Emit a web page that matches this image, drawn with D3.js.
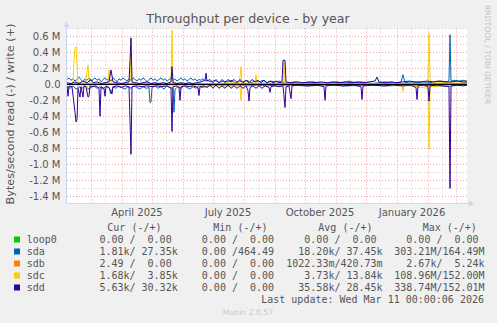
<!DOCTYPE html>
<html><head><meta charset="utf-8">
<script src="https://cdn.jsdelivr.net/npm/d3@7/dist/d3.min.js"></script>
<style>
body{margin:0;background:#f0f0f0;}
svg{display:block}
text{font-family:"DejaVu Sans",sans-serif;}
.mono{font-family:"DejaVu Sans Mono",monospace;white-space:pre;}
</style>
</head><body>
<svg id="c" width="497" height="323"></svg>
<script>
// ---------------- DATA ----------------
const title = "Throughput per device - by year";
const yTitle = "Bytes/second read (-) / write (+)";
const startDate = "2025-02-05";   // left edge of the year view (400 days)
const spanDays = 400;
const unit = 1e6;                  // values below are in M bytes/s
const devices = ["loop0", "sda", "sdb", "sdc", "sdd"];
const yTicks = [0.6, 0.4, 0.2, 0.0, -0.2, -0.4, -0.6, -0.8, -1.0, -1.2, -1.4];
const yTickLabels = ["0.6 M","0.4 M","0.2 M","0.0","-0.2 M","-0.4 M","-0.6 M","-0.8 M","-1.0 M","-1.2 M","-1.4 M"];

// [day offset from startDate, value in M]
const loop0Write = [[0,0],[400,0]];
const loop0Read  = [[0,0],[400,0]];
const sdbWrite = [[0,0],[400,0]];
const sdbRead  = [[0,0],[400,0]];

const sdaWrite = [[0,0.06],[2,0.08],[4,0.05],[6,0.07],[8,0.04],[10,0.06],[12,0.09],[14,0.06],[16,0.03],[18,0.07],[20,0.05],[22,0.08],[24,0.04],[26,0.06],[28,0.08],[30,0.05],[32,0.07],[34,0.03],[36,0.06],[38,0.08],[40,0.05],[42,0.07],[44,0.04],[46,0.08],[48,0.06],[50,0.03],[52,0.07],[54,0.05],[56,0.08],[58,0.06],[60,0.04],[62,0.07],[64,0.05],[66,0.08],[68,0.06],[70,0.04],[72,0.07],[74,0.05],[76,0.08],[78,0.06],[80,0.03],[82,0.06],[84,0.08],[86,0.05],[88,0.07],[90,0.04],[92,0.06],[94,0.08],[96,0.05],[98,0.07],[100,0.04],[102,0.06],[104,0.08],[106,0.05],[108,0.07],[110,0.04],[112,0.06],[114,0.08],[116,0.05],[118,0.07],[120,0.04],[122,0.06],[124,0.08],[126,0.05],[128,0.07],[130,0.04],[132,0.06],[134,0.05],[136,0.07],[138,0.04],[140,0.05],[144,0.03],[148,0.05],[152,0.02],[156,0.04],[160,0.03],[164,0.05],[168,0.02],[172,0.04],[176,0.03],[180,0.05],[184,0.02],[188,0.04],[192,0.03],[196,0.05],[200,0.02],[204,0.04],[208,0.03],[212,0.04],[216,0.02],[222,0.02],[228,0.03],[234,0.01],[240,0.02],[246,0.03],[252,0.02],[258,0.01],[264,0.02],[270,0.03],[276,0.02],[282,0.04],[288,0.02],[294,0.03],[300,0.02],[306,0.01],[312,0.02],[318,0.03],[324,0.02],[330,0.02],[334,0.03],[336,0.12],[338,0.02],[344,0.03],[350,0.02],[356,0.03],[362,0.02],[368,0.03],[374,0.04],[380,0.03],[382,0.05],[383,0.62],[384,0.04],[388,0.05],[392,0.04],[396,0.05],[400,0.04]];
const sdaRead = [[0,-0.03],[3,-0.05],[6,-0.02],[9,-0.06],[12,-0.03],[15,-0.05],[18,-0.02],[21,-0.06],[24,-0.04],[27,-0.02],[30,-0.05],[33,-0.03],[36,-0.06],[39,-0.02],[42,-0.04],[44,-0.12],[46,-0.03],[49,-0.05],[52,-0.02],[55,-0.04],[58,-0.06],[61,-0.03],[64,-0.05],[67,-0.02],[70,-0.04],[73,-0.06],[76,-0.03],[79,-0.05],[82,-0.04],[83,-0.23],[84,-0.22],[85,-0.04],[88,-0.02],[91,-0.05],[94,-0.03],[97,-0.06],[100,-0.02],[103,-0.04],[106,-0.05],[107,-0.35],[108,-0.06],[111,-0.03],[114,-0.05],[117,-0.02],[120,-0.04],[123,-0.06],[126,-0.03],[129,-0.05],[132,-0.02],[135,-0.04],[138,-0.03],[142,-0.02],[150,-0.01],[160,-0.02],[170,-0.01],[180,-0.02],[190,-0.01],[200,-0.02],[210,-0.01],[220,-0.01],[240,-0.02],[260,-0.01],[280,-0.02],[300,-0.01],[320,-0.02],[336,-0.01],[350,-0.01],[370,-0.02],[383,-0.02],[400,-0.01]];

const sdcWrite = [[0,0.0],[6,0.01],[7,0.30],[8,0.45],[9,0.47],[10,0.25],[11,0.02],[18,0.01],[19,0.08],[20,0.16],[21,0.24],[22,0.05],[23,0.01],[30,0.0],[40,0.01],[41,0.06],[42,0.18],[43,0.02],[50,0.0],[60,0.01],[63,0.05],[64,0.56],[65,0.02],[80,0.0],[100,0.01],[104,0.03],[105,0.68],[106,0.02],[120,0.0],[150,0.01],[172,0.02],[173,0.08],[174,0.22],[175,0.02],[188,0.01],[189,0.12],[190,0.01],[200,0.0],[216,0.02],[217,0.28],[218,0.02],[240,0.01],[280,0.01],[300,0.01],[320,0.01],[340,0.01],[360,0.01],[361,0.10],[362,0.64],[363,0.05],[366,0.02],[369,0.02],[370,0.05],[371,0.02],[380,0.02],[390,0.03],[400,0.02]];
const sdcRead = [[0,0.0],[19,-0.01],[20,-0.08],[21,-0.01],[60,0.0],[105,-0.02],[173,-0.02],[174,-0.20],[175,-0.01],[200,0.0],[300,0.0],[335,-0.02],[336,-0.09],[337,-0.01],[361,-0.05],[362,-0.81],[363,-0.03],[380,-0.01],[400,-0.01]];

const sddWrite = [[0,0.02],[4,0.01],[8,0.03],[12,0.01],[16,0.04],[20,0.02],[24,0.06],[26,0.02],[30,0.03],[34,0.01],[38,0.02],[42,0.03],[44,0.18],[46,0.03],[50,0.02],[54,0.01],[58,0.02],[62,0.03],[63,0.30],[64,0.58],[65,0.03],[68,0.02],[72,0.01],[76,0.02],[80,0.03],[84,0.01],[88,0.02],[92,0.01],[96,0.02],[100,0.01],[104,0.03],[105,0.22],[106,0.02],[110,0.01],[114,0.02],[118,0.01],[122,0.02],[126,0.01],[130,0.02],[134,0.03],[138,0.05],[139,0.14],[140,0.04],[143,0.06],[146,0.02],[149,0.06],[152,0.02],[155,0.06],[158,0.02],[161,0.06],[164,0.03],[167,0.06],[170,0.02],[173,0.06],[176,0.02],[179,0.05],[182,0.02],[185,0.06],[188,0.03],[191,0.05],[194,0.02],[197,0.05],[200,0.02],[203,0.04],[206,0.02],[209,0.04],[212,0.02],[215,0.03],[216,0.30],[218,0.30],[219,0.03],[224,0.02],[230,0.03],[236,0.02],[242,0.03],[248,0.02],[254,0.03],[260,0.02],[266,0.03],[272,0.02],[278,0.03],[284,0.02],[290,0.03],[296,0.02],[302,0.03],[308,0.04],[310,0.09],[312,0.03],[318,0.02],[324,0.03],[330,0.02],[336,0.03],[342,0.04],[348,0.03],[354,0.03],[360,0.04],[366,0.03],[372,0.04],[378,0.03],[384,0.03],[390,0.04],[396,0.03],[400,0.03]];
const sddRead = [[0,-0.02],[1,-0.15],[2,-0.02],[5,-0.03],[8,-0.35],[9,-0.47],[10,-0.44],[11,-0.05],[13,-0.16],[14,-0.03],[16,-0.16],[17,-0.02],[19,-0.03],[21,-0.16],[22,-0.15],[23,-0.02],[26,-0.03],[29,-0.02],[32,-0.05],[33,-0.40],[34,-0.03],[37,-0.05],[38,-0.15],[39,-0.03],[42,-0.04],[45,-0.12],[46,-0.03],[50,-0.02],[54,-0.04],[58,-0.02],[62,-0.03],[64,-0.875],[65,-0.03],[70,-0.02],[75,-0.03],[80,-0.02],[85,-0.03],[90,-0.02],[95,-0.03],[100,-0.02],[104,-0.05],[105,-0.59],[106,-0.03],[110,-0.02],[112,-0.04],[113,-0.20],[114,-0.03],[118,-0.02],[122,-0.03],[126,-0.02],[131,-0.04],[132,-0.14],[133,-0.03],[137,-0.02],[140,-0.04],[143,-0.01],[146,-0.05],[149,-0.01],[152,-0.05],[155,-0.02],[158,-0.05],[161,-0.01],[164,-0.05],[167,-0.02],[170,-0.05],[173,-0.02],[176,-0.05],[179,-0.02],[181,-0.08],[182,-0.21],[183,-0.04],[186,-0.02],[189,-0.05],[192,-0.02],[195,-0.05],[198,-0.02],[202,-0.04],[203,-0.10],[204,-0.03],[208,-0.02],[212,-0.03],[216,-0.02],[218,-0.29],[219,-0.03],[222,-0.02],[224,-0.18],[225,-0.02],[232,-0.01],[240,-0.02],[250,-0.01],[257,-0.03],[258,-0.20],[259,-0.02],[266,-0.01],[276,-0.02],[286,-0.01],[294,-0.03],[295,-0.19],[296,-0.02],[306,-0.01],[316,-0.02],[326,-0.01],[336,-0.02],[344,-0.01],[349,-0.04],[350,-0.19],[351,-0.02],[356,-0.01],[361,-0.03],[362,-0.21],[363,-0.02],[370,-0.01],[376,-0.02],[382,-0.03],[383,-1.30],[384,-0.02],[390,-0.01],[396,-0.02],[400,-0.01]];

// legend table
const legendHeaders = ["Cur (-/+)", "Min (-/+)", "Avg (-/+)", "Max (-/+)"];
const curVals = ["  0.00 /  0.00 ", "  1.81k/ 27.35k", "  2.49 /  0.00 ", "  1.68k/  3.85k", "  5.63k/ 30.32k"];
const minVals = ["  0.00 /  0.00 ", "  0.00 /464.49 ", "  0.00 /  0.00 ", "  0.00 /  0.00 ", "  0.00 /  0.00 "];
const avgVals = ["  0.00 /  0.00 ", " 18.20k/ 37.45k", "1022.33m/420.73m", "  3.73k/ 13.84k", " 35.58k/ 28.45k"];
const maxVals = ["  0.00 /  0.00 ", "303.21M/164.49M", "  2.67k/  5.24k", "108.96M/152.00M", "338.74M/152.01M"];
const lastUpdate = "Last update: Wed Mar 11 00:00:06 2026";
const watermark = "Munin 2.0.57";
const credit = "RRDTOOL / TOBI OETIKER";

// ---------------- STYLE ----------------
const colors = {loop0:"#00cc00", sda:"#0066b3", sdb:"#ff8000", sdc:"#ffcc00", sdd:"#330099"};
const series = {
  loop0:{w:loop0Write, r:loop0Read}, sda:{w:sdaWrite, r:sdaRead},
  sdb:{w:sdbWrite, r:sdbRead}, sdc:{w:sdcWrite, r:sdcRead}, sdd:{w:sddWrite, r:sddRead}
};
const textCol = "#555";
const L = 67, R = 467, T = 28.5, B = 203.5;

const svg = d3.select("#c");
const t0 = new Date(startDate + "T00:00:00Z");
const t1 = d3.utcDay.offset(t0, spanDays);
const x = d3.scaleUtc().domain([t0, t1]).range([L, R]);
const y = d3.scaleLinear().domain([-1.4*unit, 0.6*unit]).range([196.3, 36.3]);

// canvas
svg.append("rect").attr("x", L).attr("y", T).attr("width", R-L).attr("height", B-T).attr("fill", "#fff");

// horizontal grid
const minorY = d3.range(-14, 8).map(k => k/10).filter(v => Math.abs(Math.round(v*10)) % 2 === 1);
svg.append("g").selectAll("line").data(minorY).join("line")
  .attr("x1", L).attr("x2", R).attr("y1", d => Math.round(y(d*unit))+0.5).attr("y2", d => Math.round(y(d*unit))+0.5)
  .attr("stroke", "#cfcfcf").attr("stroke-dasharray", "1,2");
// vertical minor grid (mid-month)
const months = d3.utcMonth.range(d3.utcMonth.ceil(t0), t1);
const mids = d3.utcMonth.range(d3.utcMonth.floor(t0), t1).map(m => d3.utcDay.offset(m, 14)).filter(d => d > t0 && d < t1);
svg.append("g").selectAll("line").data(mids).join("line")
  .attr("x1", d => Math.round(x(d))+0.5).attr("x2", d => Math.round(x(d))+0.5).attr("y1", T).attr("y2", B)
  .attr("stroke", "#cfcfcf").attr("stroke-dasharray", "1,2");
// major grid
svg.append("g").selectAll("line").data(yTicks).join("line")
  .attr("x1", L).attr("x2", R).attr("y1", d => Math.round(y(d*unit))+0.5).attr("y2", d => Math.round(y(d*unit))+0.5)
  .attr("stroke", "#f0a0a0").attr("stroke-dasharray", "1,2");
svg.append("g").selectAll("line").data(months).join("line")
  .attr("x1", d => Math.round(x(d))+0.5).attr("x2", d => Math.round(x(d))+0.5).attr("y1", T).attr("y2", B)
  .attr("stroke", "#f0a0a0").attr("stroke-dasharray", "1,2");

// series
const line = d3.line().x(p => x(d3.utcDay.offset(t0, p[0]))).y(p => y(p[1]*unit));
const gS = svg.append("g").attr("clip-path", "url(#clip)");
svg.append("clipPath").attr("id", "clip").append("rect").attr("x", L).attr("y", T).attr("width", R-L).attr("height", B-T);
devices.forEach(dev => {
  ["r", "w"].forEach(k => {
    gS.append("path").attr("d", line(series[dev][k])).attr("fill", "none")
      .attr("stroke", colors[dev]).attr("stroke-width", 1);
  });
});
// zero rule
svg.append("line").attr("x1", L).attr("x2", R).attr("y1", y(0)).attr("y2", y(0)).attr("stroke", "#000").attr("stroke-width", 1.2);

// axes
const axisCol = "#cfd6f8";
svg.append("line").attr("x1", L-0.5).attr("x2", L-0.5).attr("y1", 26).attr("y2", B).attr("stroke", axisCol);
svg.append("line").attr("x1", L-1).attr("x2", 470).attr("y1", B).attr("y2", B).attr("stroke", axisCol);
svg.append("path").attr("d", `M${L-3.5},27L${L-0.5},21.5L${L+2.5},27Z`).attr("fill", axisCol);
svg.append("path").attr("d", `M469,${B-3}L474.5,${B}L469,${B+3}Z`).attr("fill", axisCol);

// y tick labels
svg.append("g").selectAll("text").data(yTicks).join("text")
  .attr("x", 60.5).attr("y", d => y(d*unit)).attr("dy", "0.36em").attr("text-anchor", "end")
  .attr("font-size", 10).attr("fill", textCol).text((d, i) => yTickLabels[i]);

// x labels: every 3 months, centered half a month after the month start
const quarters = months.filter(m => m.getUTCMonth() % 3 === 0);
const fmt = d3.utcFormat("%B %Y");
svg.append("g").selectAll("text").data(quarters).join("text")
  .attr("x", d => x(d3.utcDay.offset(d, 15))).attr("y", 216).attr("text-anchor", "middle")
  .attr("font-size", 10).attr("fill", textCol).text(d => fmt(d));

// titles
svg.append("text").attr("x", 248).attr("y", 23).attr("text-anchor", "middle")
  .attr("font-size", 12.6).attr("fill", textCol).text(title);
svg.append("text").attr("transform", "translate(14,114) rotate(-90)").attr("text-anchor", "middle")
  .attr("font-size", 11.2).attr("fill", textCol).text(yTitle);
svg.append("text").attr("transform", "translate(485,5) rotate(90)")
  .attr("font-size", 7.7).attr("fill", "#c4c4c4").text(credit);
svg.append("text").attr("x", 248).attr("y", 315).attr("text-anchor", "middle")
  .attr("font-size", 7.7).attr("fill", "#c8c8c8").text(watermark);

// legend
const lg = svg.append("g").attr("class", "mono").attr("font-size", 10).attr("fill", textCol);
const headX = [107.3, 213.3, 318.3, 422.7];
legendHeaders.forEach((h, i) => lg.append("text").attr("class", "mono").attr("x", headX[i]).attr("y", 230.5).text(h));
const colEnds = [177.7, 280.1, 382.6, 484.6];
const cols = [curVals, minVals, avgVals, maxVals];
devices.forEach((dev, i) => {
  const by = 242.5 + i*12;
  lg.append("rect").attr("x", 14).attr("y", by-6).attr("width", 6).attr("height", 6).attr("fill", colors[dev]);
  lg.append("text").attr("class", "mono").attr("x", 26.7).attr("y", by).text(dev);
  cols.forEach((c, j) => lg.append("text").attr("class", "mono").attr("x", colEnds[j]).attr("y", by)
    .attr("text-anchor", "end").text(c[i]));
});
lg.append("text").attr("class", "mono").attr("x", 484).attr("y", 302.5).attr("text-anchor", "end").text(lastUpdate);
</script>
</body></html>
